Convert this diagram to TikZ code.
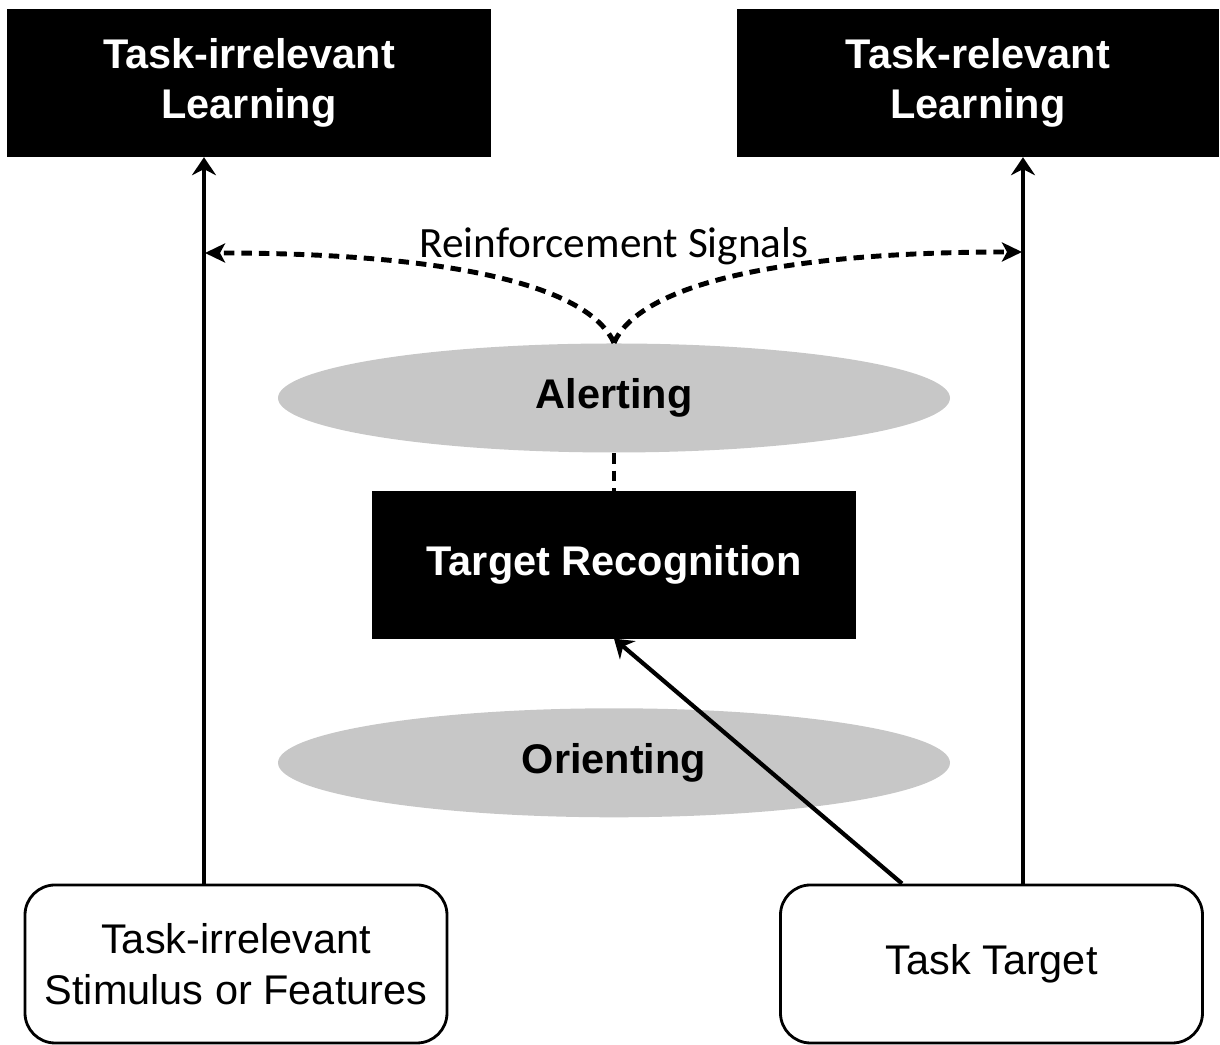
\documentclass[tikz,border=0pt]{standalone}
\usepackage{fontspec}
\setmainfont{Liberation Sans}
\newfontfamily\signalfont{Carlito}
\usetikzlibrary{positioning, shapes.geometric, arrows.meta}

\begin{document}
\begin{tikzpicture}[
    node distance=0.4cm,
    darkbox/.style={rectangle, draw=black, fill=black, text=white, align=center, font=\fontsize{11.8}{14.2}\selectfont\bfseries, minimum width=4.82cm, minimum height=1.47cm, inner sep=0pt},
    attn/.style={ellipse, fill=black!22, font=\fontsize{11.8}{14.2}\selectfont\bfseries, minimum width=6.72cm, minimum height=1.09cm, inner sep=0pt},
    inputbox/.style={rectangle, draw, line width=0.8pt, rounded corners=0.3cm, align=center, font=\fontsize{11.8}{14.6}\selectfont, minimum width=4.22cm, minimum height=1.58cm, inner sep=0pt},
    feed/.style={-{Stealth[length=1.8mm, width=2.4mm, inset=0.6mm]}, line width=1.2pt},
    signal/.style={dash pattern=on 1.05mm off 0.7mm, line width=1.4pt}
]
\useasboundingbox (0,0) rectangle (12.2,10.45);

% learning outcomes
\node [darkbox] (irrlearn) at (2.49,9.62) {Task-irrelevant\\Learning};
\node [darkbox, minimum width=4.80cm] (rellearn) at (9.78,9.62) {Task-relevant\\Learning};

% attention systems
\node [attn] (alert) at (6.14,6.47) {Alerting};
\node [darkbox, minimum height=1.46cm, below=0.38cm of alert] (recog) {Target Recognition};
\node [attn, below=0.69cm of recog] (orient) {Orienting};

% inputs
\node [inputbox] (stim) at (2.36,0.81) {Task-irrelevant\\Stimulus or Features};
\node [inputbox] (target) at (9.915,0.81) {Task Target};

\node [font=\signalfont\fontsize{12.3}{14}\selectfont, anchor=base] (siglabel) at (6.14,7.87) {Reinforcement Signals};
\coordinate (lefthit) at (2.05,7.92);
\coordinate (righthit) at (10.22,7.93);

\draw [feed] ([xshift=-3.2mm]stim.north) -- ([xshift=-3.2mm]stim.north |- irrlearn.south);
\draw [feed] ([xshift=3.15mm]target.north) -- ([xshift=3.15mm]target.north |- rellearn.south);
\draw [feed] ([xshift=-8.95mm]target.north) -- (recog.south);

\draw [signal] (alert.south) -- (recog.north);
\draw [signal, -{Stealth[length=2mm, width=1.9mm, inset=0.5mm]}] (alert.north) .. controls +(-0.25,0.55) and +(2.55,0) .. (lefthit);
\draw [signal, -{Stealth[length=2mm, width=1.9mm, inset=0.5mm]}] (alert.north) .. controls +(0.25,0.55) and +(-2.55,0) .. (righthit);

\end{tikzpicture}
\end{document}
